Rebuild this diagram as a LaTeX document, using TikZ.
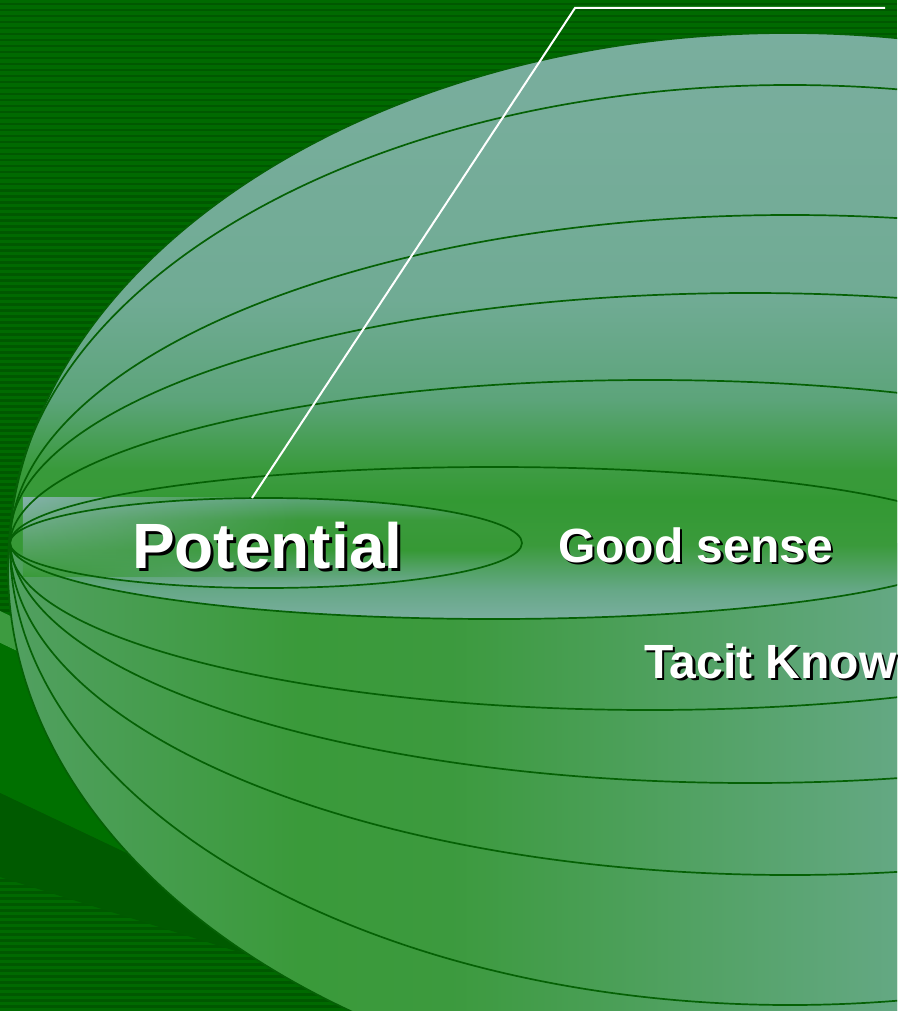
\documentclass[tikz,border=0pt]{standalone}
\usepackage{fontspec}
\setmainfont{Liberation Sans}
\usetikzlibrary{fadings}

\definecolor{bgLight}{HTML}{006A00}
\definecolor{bgDark}{HTML}{005800}
\definecolor{swLight}{HTML}{3D9B40}
\definecolor{swMid}{HTML}{007000}
\definecolor{swDark}{HTML}{005A00}
\definecolor{ellLine}{HTML}{056105}

% outer shading colours (top to bottom)
\definecolor{oc1}{HTML}{7AAE9F}
\definecolor{oc2}{HTML}{77AD9B}
\definecolor{oc3}{HTML}{70AB94}
\definecolor{oc4}{HTML}{5CA47A}
\definecolor{oc5}{HTML}{389A3A}
\definecolor{oc6}{HTML}{369935}
\definecolor{oc7}{HTML}{42A04B}
\definecolor{oc8}{HTML}{3D9A42}
\definecolor{oc9}{HTML}{4FA25E}
% lower half, left to right
\definecolor{lc1}{HTML}{52A062}
\definecolor{lc2}{HTML}{3A9A3A}
\definecolor{lc3}{HTML}{3C9A3E}
\definecolor{lc4}{HTML}{64A883}
% good sense ellipse
\definecolor{gc1}{HTML}{3F9C45}
\definecolor{gc2}{HTML}{339933}
\definecolor{gc3}{HTML}{3A9A3B}
\definecolor{gc4}{HTML}{66A887}
\definecolor{gc5}{HTML}{7AAE9F}
% potential ellipse
\definecolor{pc1}{HTML}{5DA478}
\definecolor{pc2}{HTML}{3A9A3B}
\definecolor{pc3}{HTML}{369935}
\definecolor{pc4}{HTML}{5FA57A}
\definecolor{pc5}{HTML}{78AD9C}
% label box
\definecolor{rcTop}{HTML}{84B2AA}
\definecolor{rcMid}{HTML}{6AA98C}
\definecolor{rcBot}{HTML}{3A9A3A}

\pgfdeclareverticalshading{outerShade}{100bp}{color(0bp)=(oc9); color(25bp)=(oc9); color(35.44bp)=(oc8); color(43.35bp)=(oc7); color(48.05bp)=(oc6); color(51.75bp)=(oc5); color(55.22bp)=(oc4); color(60.16bp)=(oc3); color(69.07bp)=(oc2); color(75bp)=(oc1); color(100bp)=(oc1)}
\pgfdeclarehorizontalshading{lowerShade}{100bp}{color(0bp)=(lc1); color(25bp)=(lc1); color(41.72bp)=(lc2); color(50.08bp)=(lc3); color(75bp)=(lc4); color(100bp)=(lc4)}
\pgfdeclareverticalshading{goodShade}{100bp}{color(0bp)=(gc5); color(44.39bp)=(gc5); color(45.82bp)=(gc4); color(48.05bp)=(gc3); color(50.27bp)=(gc2); color(51.90bp)=(gc1); color(100bp)=(gc1)}
\pgfdeclareverticalshading{potShade}{100bp}{color(0bp)=(pc5); color(45.92bp)=(pc5); color(46.56bp)=(pc4); color(47.80bp)=(pc3); color(49.28bp)=(pc2); color(50.37bp)=(pc1); color(100bp)=(pc1)}

\tikzfading[name=rectFade, left color=transparent!0, middle color=transparent!35, right color=transparent!100]

\tikzset{
  ell/.style={draw=ellLine, line width=1.7pt},
  lbl/.style={anchor=base west, inner sep=0pt, font=\bfseries, text=white},
  lblshadow/.style={anchor=base west, inner sep=0pt, font=\bfseries, text=black},
  callout/.style={draw=white, line width=2pt}
}

\begin{document}
\begin{tikzpicture}[x=1pt,y=-1pt]
\useasboundingbox (0,0) rectangle (897,1011);
\clip (0,0) rectangle (897,1011);

% striped background
\fill[bgLight] (0,0) rectangle (897,1011);
\foreach \k in {0,...,168} {\fill[bgDark] (0,{\k*6+3}) rectangle (897,{\k*6+5.5});}

% swooshes in the lower left
\fill[swLight] (0,611) -- (120,668) -- (120,700) -- (0,643) -- cycle;
\fill[swMid] (0,643) -- (250,763) -- (250,912) -- (0,793) -- cycle;
\fill[swDark] (0,793) -- (500,1030) -- (500,1034) -- (0,877) -- cycle;

% ellipse fills
\begin{scope}
  \clip (788,568) ellipse [x radius=780pt, y radius=535pt];
  \shade[shading=outerShade] (0,0) rectangle (897,1011);
  \shade[shading=lowerShade] (0,543) rectangle (897,1011);
\end{scope}
\begin{scope}
  \clip (494,543) ellipse [x radius=484pt, y radius=76pt];
  \shade[shading=goodShade] (0,0) rectangle (897,1011);
\end{scope}
\begin{scope}
  \clip (266,543) ellipse [x radius=256pt, y radius=45pt];
  \shade[shading=potShade] (0,0) rectangle (897,1011);
\end{scope}

% label box behind "Potential"
\shade[top color=rcTop, middle color=rcMid, bottom color=rcBot, path fading=rectFade] (23,498) rectangle (300,576);

% ellipse outlines
\draw[ell] (788,568) ellipse [x radius=780pt, y radius=535pt];
\draw[ell] (790,545) ellipse [x radius=780pt, y radius=460pt];
\draw[ell] (790,545) ellipse [x radius=780pt, y radius=330pt];
\draw[ell] (750,538) ellipse [x radius=740pt, y radius=245pt];
\draw[ell] (650,545) ellipse [x radius=640pt, y radius=165pt];
\draw[ell] (494,543) ellipse [x radius=484pt, y radius=76pt];
\draw[ell] (266,543) ellipse [x radius=256pt, y radius=45pt];

% labels
\node[lblshadow, font=\bfseries\fontsize{64}{64}\selectfont] (potShadow) at (135,571) {Potential};
\node[lbl, font=\bfseries\fontsize{64}{64}\selectfont] (potential) at (132,568) {Potential};
\node[lblshadow, font=\bfseries\fontsize{48}{48}\selectfont] (goodShadow) at (560.5,564.5) {Good sense};
\node[lbl, font=\bfseries\fontsize{48}{48}\selectfont] (good) at (558,562) {Good sense};
\node[lblshadow, font=\bfseries\fontsize{48}{48}\selectfont] (tacitShadow) at (646.5,680.5) {Tacit Know};
\node[lbl, font=\bfseries\fontsize{48}{48}\selectfont] (tacit) at (644,678) {Tacit Know};

% callout line
\coordinate (calloutA) at (252,498);
\coordinate (calloutB) at (575,8);
\coordinate (calloutC) at (885,8);
\draw[callout] (calloutA) -- (calloutB) -- (calloutC);
\end{tikzpicture}
\end{document}
